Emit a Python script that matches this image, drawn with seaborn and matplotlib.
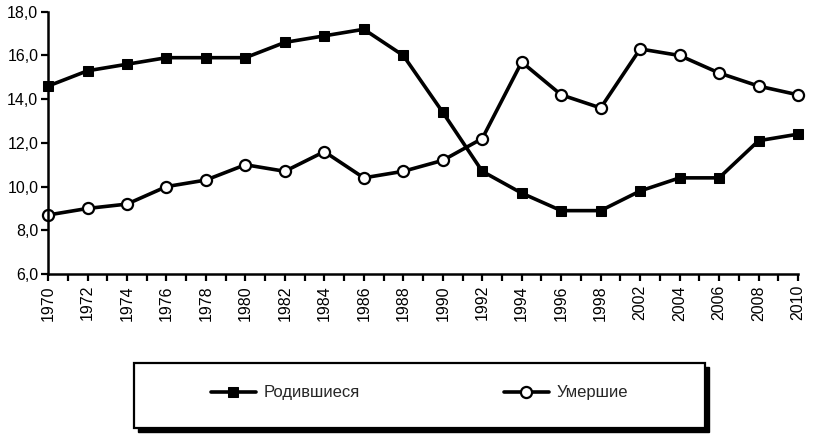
import numpy as np
import pandas as pd
import matplotlib
matplotlib.use('Agg')
import matplotlib.pyplot as plt
import matplotlib.patches as mpatches
from matplotlib.ticker import FuncFormatter
import seaborn as sns

# данные: рождаемость и смертность (на 1000 человек)
years = ['1970', '1972', '1974', '1976', '1978', '1980', '1982', '1984', '1986', '1988',
         '1990', '1992', '1994', '1996', '1998', '2002', '2004', '2006', '2008', '2010']
births = [14.6, 15.3, 15.6, 15.9, 15.9, 15.9, 16.6, 16.9, 17.2, 16.0,
          13.4, 10.7, 9.7, 8.9, 8.9, 9.8, 10.4, 10.4, 12.1, 12.4]
deaths = [8.7, 9.0, 9.2, 10.0, 10.3, 11.0, 10.7, 11.6, 10.4, 10.7,
          11.2, 12.2, 15.7, 14.2, 13.6, 16.3, 16.0, 15.2, 14.6, 14.2]
labels = ['Родившиеся', 'Умершие']

sns.set_style('white')
plt.rcParams['font.family'] = ['Liberation Sans', 'DejaVu Sans']

fig = plt.figure(figsize=(8.14, 4.37), dpi=100)
ax = fig.add_axes([0.059, 0.373, 0.9214, 0.600])

df = pd.DataFrame({'year': years, 'births': births, 'deaths': deaths})

sns.lineplot(data=df, x='year', y='births', ax=ax, sort=False, color='black',
             linewidth=2.6, marker='s', markersize=7.5, markerfacecolor='black',
             markeredgecolor='black', clip_on=False, label=labels[0])
sns.lineplot(data=df, x='year', y='deaths', ax=ax, sort=False, color='black',
             linewidth=2.6, marker='o', markersize=8, markerfacecolor='white',
             markeredgecolor='black', markeredgewidth=1.6, clip_on=False, label=labels[1])

ax.set_xlim(0, len(years) - 1)
ax.set_ylim(6, 18)
ax.set_yticks(np.arange(6, 18.1, 2))
ax.yaxis.set_major_formatter(FuncFormatter(lambda v, p: f'{v:.1f}'.replace('.', ',')))
ax.set_xticks(range(len(years)))
ax.set_xticklabels(years, rotation=90)
ax.set_xticks(np.arange(0.5, len(years) - 1, 1), minor=True)
ax.set_xlabel('')
ax.set_ylabel('')

for s in ['top', 'right']:
    ax.spines[s].set_visible(False)
for s in ['left', 'bottom']:
    ax.spines[s].set_color('black')
    ax.spines[s].set_linewidth(1.8)
ax.tick_params(axis='both', which='both', direction='out', length=5, width=1.6,
               color='black', labelsize=11.5, labelcolor='black')
ax.tick_params(axis='x', which='both', bottom=True, pad=3)
ax.tick_params(axis='y', left=True, pad=2)

# рамка легенды с тенью
W, H = 814, 437
bx0, by0, bx1, by1 = 134, 363, 705, 428
fig.patches.append(mpatches.Rectangle(((bx0 + 4) / W, 1 - (by1 + 4) / H), (bx1 - bx0) / W,
                                      (by1 - by0) / H, transform=fig.transFigure,
                                      facecolor='black', edgecolor='black', zorder=1))
fig.patches.append(mpatches.Rectangle((bx0 / W, 1 - by1 / H), (bx1 - bx0) / W,
                                      (by1 - by0) / H, transform=fig.transFigure,
                                      facecolor='white', edgecolor='black', linewidth=1.6, zorder=2))

handles, lbls = ax.get_legend_handles_labels()
ax.get_legend().remove()
fig.legend(handles, lbls, loc='center', bbox_to_anchor=((bx0 + bx1) / 2 / W, 1 - 393 / H),
           ncol=2, frameon=False, fontsize=12, handlelength=2.7, handletextpad=0.5,
           columnspacing=8.6)

fig.savefig('out.png', dpi=100)
